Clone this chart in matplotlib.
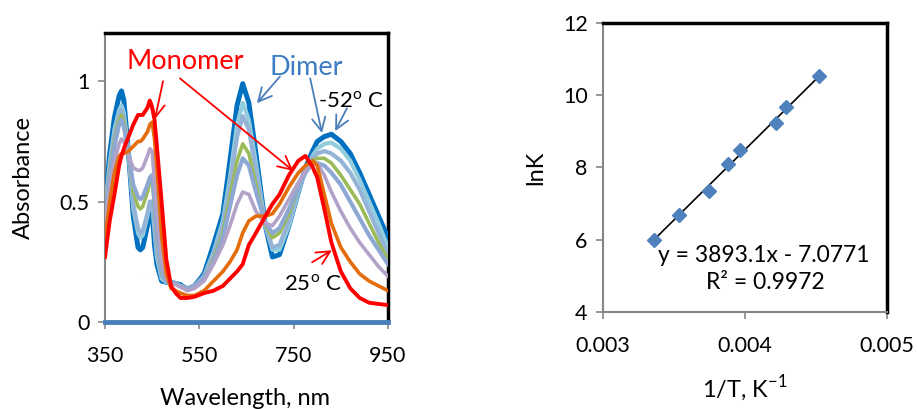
import matplotlib
matplotlib.use('Agg')
import matplotlib.pyplot as plt

plt.rcParams['font.family'] = ['Lato', 'DejaVu Sans']
plt.rcParams['mathtext.fontset'] = 'custom'
plt.rcParams['mathtext.rm'] = 'Lato'

# spectra (absorbance vs wavelength), 25 C -> -52 C
wavelength = [350, 360, 370, 380, 385, 390, 400, 410, 420, 425, 430, 440, 445, 450, 455, 460,
              470, 480, 490, 500, 510, 525, 540, 560, 580, 600, 615, 630, 642, 655, 670, 690,
              705, 720, 740, 760, 775, 790, 800, 815, 830, 850, 870, 890, 910, 930, 950]

abs_25 = [0.27, 0.42, 0.53, 0.65, 0.69, 0.72, 0.77, 0.82, 0.86, 0.86, 0.86, 0.89, 0.92, 0.89, 0.84, 0.73,
          0.50, 0.26, 0.15, 0.12, 0.10, 0.10, 0.105, 0.12, 0.13, 0.15, 0.18, 0.21, 0.24, 0.32, 0.37, 0.44,
          0.49, 0.53, 0.61, 0.67, 0.69, 0.645, 0.60, 0.47, 0.33, 0.21, 0.14, 0.10, 0.08, 0.075, 0.07]
abs_orange = [0.34, 0.50, 0.62, 0.69, 0.70, 0.70, 0.71, 0.73, 0.75, 0.75, 0.76, 0.79, 0.82, 0.83, 0.76, 0.64,
              0.36, 0.20, 0.14, 0.13, 0.12, 0.11, 0.11, 0.13, 0.17, 0.21, 0.25, 0.30, 0.37, 0.42, 0.44, 0.44,
              0.45, 0.49, 0.56, 0.62, 0.65, 0.67, 0.65, 0.53, 0.41, 0.31, 0.25, 0.20, 0.17, 0.15, 0.13]
abs_lavender = [0.42, 0.56, 0.67, 0.74, 0.76, 0.75, 0.69, 0.64, 0.63, 0.63, 0.64, 0.69, 0.72, 0.71, 0.58, 0.45,
                0.25, 0.18, 0.16, 0.155, 0.145, 0.13, 0.14, 0.17, 0.24, 0.32, 0.40, 0.49, 0.54, 0.53, 0.46, 0.41,
                0.40, 0.44, 0.51, 0.58, 0.63, 0.66, 0.66, 0.61, 0.54, 0.46, 0.39, 0.33, 0.28, 0.23, 0.19]
abs_greyblue2 = [0.44, 0.60, 0.73, 0.82, 0.84, 0.81, 0.70, 0.57, 0.52, 0.51, 0.52, 0.57, 0.60, 0.61, 0.50, 0.37,
                 0.22, 0.17, 0.165, 0.16, 0.15, 0.14, 0.15, 0.18, 0.25, 0.35, 0.48, 0.61, 0.68, 0.65, 0.54, 0.41,
                 0.37, 0.39, 0.47, 0.56, 0.62, 0.66, 0.66, 0.65, 0.62, 0.57, 0.50, 0.43, 0.36, 0.30, 0.24]
abs_green = [0.45, 0.62, 0.75, 0.84, 0.86, 0.83, 0.70, 0.54, 0.48, 0.47, 0.48, 0.54, 0.58, 0.59, 0.48, 0.35,
             0.21, 0.17, 0.165, 0.16, 0.15, 0.14, 0.15, 0.18, 0.26, 0.37, 0.52, 0.67, 0.74, 0.70, 0.57, 0.40,
             0.35, 0.37, 0.45, 0.56, 0.63, 0.67, 0.68, 0.68, 0.66, 0.61, 0.55, 0.49, 0.41, 0.33, 0.26]
abs_greyblue1 = [0.46, 0.64, 0.78, 0.86, 0.88, 0.85, 0.70, 0.49, 0.39, 0.37, 0.38, 0.45, 0.50, 0.50, 0.40, 0.29,
                 0.19, 0.17, 0.165, 0.16, 0.15, 0.14, 0.15, 0.19, 0.28, 0.40, 0.57, 0.77, 0.855, 0.80, 0.63, 0.40,
                 0.31, 0.32, 0.42, 0.55, 0.63, 0.68, 0.70, 0.71, 0.70, 0.67, 0.62, 0.55, 0.46, 0.37, 0.28]
abs_lightblue = [0.47, 0.66, 0.80, 0.88, 0.90, 0.87, 0.70, 0.47, 0.37, 0.35, 0.36, 0.44, 0.49, 0.49, 0.38, 0.27,
                 0.18, 0.165, 0.165, 0.16, 0.15, 0.14, 0.15, 0.19, 0.29, 0.42, 0.60, 0.82, 0.91, 0.84, 0.66, 0.40,
                 0.30, 0.30, 0.40, 0.54, 0.63, 0.69, 0.72, 0.74, 0.745, 0.72, 0.67, 0.59, 0.50, 0.41, 0.31]
abs_52 = [0.48, 0.70, 0.85, 0.94, 0.96, 0.92, 0.70, 0.44, 0.31, 0.30, 0.31, 0.40, 0.46, 0.46, 0.32, 0.24,
          0.17, 0.165, 0.165, 0.16, 0.155, 0.135, 0.15, 0.20, 0.32, 0.45, 0.67, 0.90, 0.99, 0.91, 0.70, 0.40,
          0.27, 0.28, 0.40, 0.54, 0.64, 0.71, 0.75, 0.77, 0.78, 0.75, 0.70, 0.62, 0.53, 0.44, 0.35]

# van't Hoff plot
inv_T = [0.003359, 0.003535, 0.003746, 0.00388, 0.003965, 0.004218, 0.004289, 0.004521]
lnK = [6.0, 6.68, 7.35, 8.09, 8.48, 9.23, 9.67, 10.52]
slope, intercept = 3893.1, -7.0771

series = [
    (abs_52, '#0070C0', 3.6),
    (abs_lightblue, '#93CDDD', 3.0),
    (abs_greyblue1, '#95B3D7', 3.0),
    (abs_green, '#9BBB59', 2.6),
    (abs_greyblue2, '#8EA8D4', 3.0),
    (abs_lavender, '#B3A2C7', 2.6),
    (abs_orange, '#E46C0A', 2.6),
    (abs_25, '#FF0000', 2.8),
]

fig = plt.figure(figsize=(9.17, 4.09), dpi=100)
ax1 = fig.add_axes([0.1145, 0.2127, 0.3086, 0.7063])
ax2 = fig.add_axes([0.6576, 0.2372, 0.3097, 0.7066])

for vals, c, lw in series:
    ax1.plot(wavelength, vals, color=c, lw=lw, solid_joinstyle='round', zorder=3)

ax1.set_xlim(350, 950)
ax1.set_ylim(0, 1.2)
ax1.set_xticks([350, 550, 750, 950])
ax1.set_yticks([0, 0.5, 1])
ax1.set_yticklabels(['0', '0.5', '1'])
ax1.set_xlabel('Wavelength, nm', fontsize=17)
ax1.set_ylabel('Absorbance', fontsize=17)
ax1.xaxis.set_label_coords(0.495, -0.228)
ax1.yaxis.set_label_coords(-0.25, 0.5)

ax1.spines['top'].set(color='black', lw=2.5)
ax1.spines['right'].set(color='black', lw=2.5)
ax1.spines['left'].set(color='#868686', lw=1.5)
ax1.spines['bottom'].set(color='#4A7EBB', lw=3.5, zorder=5)

arrow_red = dict(arrowstyle='->', color='#FF0000', lw=1.3, mutation_scale=24, shrinkA=0, shrinkB=0)
arrow_blue = dict(arrowstyle='->', color='#4A7EBB', lw=1.3, mutation_scale=24, shrinkA=0, shrinkB=0)

ax1.text(520, 1.083, 'Monomer', color='#FF0000', fontsize=19.5, ha='center', va='center')
ax1.annotate('', xy=(456, 0.843), xytext=(473, 1.0), arrowprops=arrow_red)
ax1.annotate('', xy=(749, 0.628), xytext=(509, 1.012), arrowprops=arrow_red)

ax1.text(776, 1.058, 'Dimer', color='#3C7DC4', fontsize=19.5, ha='center', va='center')
ax1.annotate('', xy=(672, 0.909), xytext=(721, 1.02), arrowprops=arrow_blue)
ax1.annotate('', xy=(810, 0.785), xytext=(785, 1.012), arrowprops=arrow_blue)
ax1.annotate('', xy=(838, 0.793), xytext=(863, 0.888), arrowprops=arrow_blue)
ax1.text(871, 0.917, r'-52$^{\mathrm{o}}$ C', fontsize=16, ha='center', va='center')

ax1.text(791, 0.157, r'25$^{\mathrm{o}}$ C', fontsize=16, ha='center', va='center')
ax1.annotate('', xy=(831, 0.298), xytext=(789, 0.248), arrowprops=arrow_red)

# right panel
ax2.plot(inv_T, lnK, 'D', color='#4F81BD', markersize=7.5, zorder=4)
fit_x = [inv_T[0], inv_T[-1]]
fit_y = [slope * v + intercept for v in fit_x]
ax2.plot(fit_x, fit_y, color='black', lw=1.2, zorder=3)
ax2.text(0.004134, 5.55, 'y = 3893.1x - 7.0771', fontsize=16.5, ha='center', va='center')
ax2.text(0.004141, 4.83, 'R² = 0.9972', fontsize=16.5, ha='center', va='center')

ax2.set_xlim(0.003, 0.005)
ax2.set_ylim(4, 12)
ax2.set_xticks([0.003, 0.004, 0.005])
ax2.set_xticklabels(['0.003', '0.004', '0.005'])
ax2.set_yticks([4, 6, 8, 10, 12])
ax2.set_xlabel(r'1/T, K$^{\mathrm{-1}}$', fontsize=17)
ax2.set_ylabel('lnK', fontsize=17)
ax2.xaxis.set_label_coords(0.5, -0.215)
ax2.yaxis.set_label_coords(-0.2, 0.5)

ax2.spines['top'].set(color='black', lw=2.5)
ax2.spines['right'].set(color='black', lw=2.5)
ax2.spines['left'].set(color='#868686', lw=1.5)
ax2.spines['bottom'].set(color='#868686', lw=1.5)

for ax in (ax1, ax2):
    ax.tick_params(direction='out', length=5, width=1.2, color='#868686',
                   labelsize=15.5, pad=6)
    ax.tick_params(axis='x', pad=12)

fig.savefig('out.png', dpi=100)
